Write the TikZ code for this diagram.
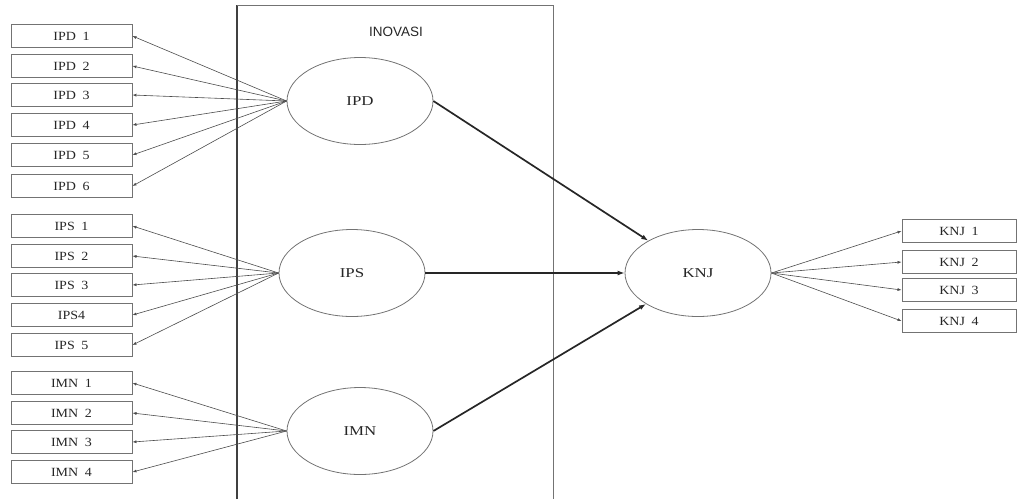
\documentclass[tikz,border=0pt]{standalone}
\usepackage{fontspec}
\setmainfont{Liberation Serif}
\newfontfamily\itemfont[FakeStretch=1.12,WordSpace=1.9]{Liberation Serif}
\newfontfamily\latentfont[FakeStretch=1.25]{Liberation Serif}
\newfontfamily\groupfont{Liberation Sans}
\usetikzlibrary{arrows.meta,shapes.geometric}
\definecolor{edge}{gray}{0.45}
\definecolor{ink}{gray}{0.15}
\begin{document}
\begin{tikzpicture}[x=1pt,y=-1pt,
  indicator/.style={draw=edge,line width=0.9pt,minimum width=121pt,minimum height=23pt,
    inner sep=0pt,text=ink,font=\itemfont\fontsize{12.5}{14}\selectfont},
  latent/.style={draw=edge,line width=0.8pt,ellipse,minimum width=146pt,minimum height=87pt,
    inner sep=0pt,text=ink,font=\latentfont\fontsize{13.5}{15}\selectfont},
  load/.style={draw=black!70,line width=0.6pt,-{Latex[length=4pt,width=3pt]}},
  structpath/.style={draw=black!85,line width=1.7pt,-{Latex[length=7pt,width=5pt]}}]
\useasboundingbox (0,0) rectangle (1019,499);

% group frame
\draw[black!75,line width=1.4pt] (237,499) -- (237,5);
\draw[edge,line width=0.9pt] (237,5) -- (553,5) -- (553,499);
\node[font=\groupfont\fontsize{13.5}{15}\selectfont,text=ink] (grp) at (396,32) {INOVASI};

% latent variables
\node[latent] (IPD) at (360,101) {IPD};
\node[latent] (IPS) at (352,273) {IPS};
\node[latent] (IMN) at (360,431) {IMN};
\node[latent] (KNJ) at (698,273) {KNJ};

% indicators
\foreach \n/\y in {1/36,2/66,3/95,4/125,5/155,6/186}
  \node[indicator] (ipd\n) at (71.5,\y) {IPD \n};
\foreach \n/\t/\y in {1/IPS 1/226,2/IPS 2/256,3/IPS 3/285,4/IPS4/315,5/IPS 5/345}
  \node[indicator] (ips\n) at (71.5,\y) {\t};
\foreach \n/\y in {1/383,2/413,3/442,4/472}
  \node[indicator] (imn\n) at (71.5,\y) {IMN \n};
\foreach \n/\y in {1/231,2/262,3/290,4/321}
  \node[indicator,minimum width=114pt] (knj\n) at (959,\y) {KNJ \n};

% loadings
\foreach \n in {1,...,6} \draw[load] (IPD.west) -- (ipd\n.east);
\foreach \n in {1,...,5} \draw[load] (IPS.west) -- (ips\n.east);
\foreach \n in {1,...,4} \draw[load] (IMN.west) -- (imn\n.east);
\foreach \n in {1,...,4} \draw[load] (KNJ.east) -- (knj\n.west);

% structural paths
\draw[structpath] (IPD.east) -- (KNJ);
\draw[structpath] (IPS.east) -- (KNJ);
\draw[structpath] (IMN.east) -- (KNJ);
\end{tikzpicture}
\end{document}
